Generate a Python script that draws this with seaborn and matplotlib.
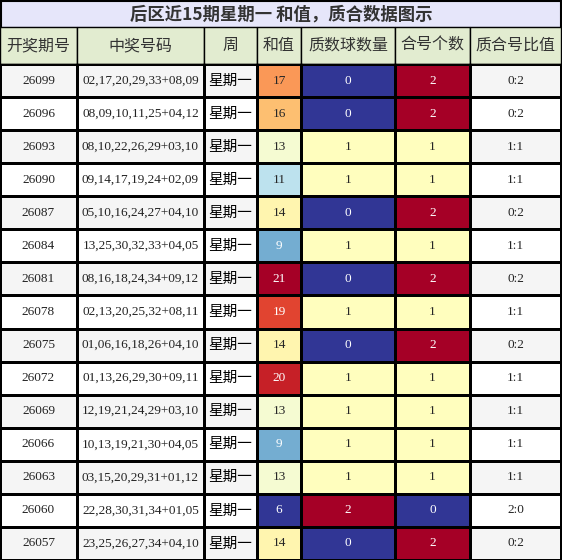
import numpy as np
import matplotlib
matplotlib.use("Agg")
import matplotlib.pyplot as plt
from matplotlib.colors import ListedColormap
import seaborn as sns

periods = ["26099","26096","26093","26090","26087","26084","26081","26078","26075","26072","26069","26066","26063","26060","26057"]
numbers = ["02,17,20,29,33+08,09","08,09,10,11,25+04,12","08,10,22,26,29+03,10","09,14,17,19,24+02,09",
           "05,10,16,24,27+04,10","13,25,30,32,33+04,05","08,16,18,24,34+09,12","02,13,20,25,32+08,11",
           "01,06,16,18,26+04,10","01,13,26,29,30+09,11","12,19,21,24,29+03,10","10,13,19,21,30+04,05",
           "03,15,20,29,31+01,12","22,28,30,31,34+01,05","23,25,26,27,34+04,10"]
weekday = ["星期一"] * 15
sums = [17,16,13,11,14,9,21,19,14,20,13,9,13,6,14]
primes = [0,0,1,1,0,1,0,1,0,1,1,1,1,2,0]
composites = [2,2,1,1,2,1,2,1,2,1,1,1,1,0,2]
ratios = ["0:2","0:2","1:1","1:1","0:2","1:1","0:2","1:1","0:2","1:1","1:1","1:1","1:1","2:0","0:2"]
headers = ["开奖期号","中奖号码","周","和值","质数球数量","合号个数","质合号比值"]
title = "后区近15期星期一 和值，质合数据图示"

W, H = 562, 560
fig = plt.figure(figsize=(W/100, H/100), dpi=100)
bg = fig.add_axes([0, 0, 1, 1])
bg.set_xlim(0, W); bg.set_ylim(H, 0); bg.axis("off")
xs = [0, 77, 204, 257, 301, 395, 470, 561]
title_h, head_h, top = 27, 37, 64
cjk = ["Noto Sans CJK SC", "DejaVu Sans"]
mix = ["Liberation Serif", "Noto Sans CJK SC"]

bg.add_patch(plt.Rectangle((0.5, 0.5), W-1.5, title_h, fc="#e6e6fa", ec="black", lw=1.5))
bg.text(W/2, title_h/2+1, title, ha="center", va="center", fontsize=12.5, fontweight="bold",
        color="#333333", family=cjk)
for i, h in enumerate(headers):
    bg.add_patch(plt.Rectangle((xs[i], title_h), xs[i+1]-xs[i], head_h, fc="#e2ecd0", ec="black", lw=1))
    bg.text((xs[i]+xs[i+1])/2, title_h+head_h/2, h, ha="center", va="center", fontsize=11.5,
            color="#333333", family=cjk)

parity = np.array([[i % 2] for i in range(15)])
stripe = ListedColormap(["#f5f5f5", "white"])
cols = [
    (parity, stripe, np.array(periods)[:, None], {}),
    (parity, stripe, np.array(numbers)[:, None], {}),
    (parity, stripe, np.array(weekday)[:, None], {"fontsize": 10.5, "family": cjk, "color": "black"}),
    (np.array(sums)[:, None], "RdYlBu_r", np.array(sums)[:, None], {}),
    (np.array(primes)[:, None], "RdYlBu_r", np.array(primes)[:, None], {}),
    (np.array(composites)[:, None], "RdYlBu_r", np.array(composites)[:, None], {}),
    (parity, stripe, np.array(ratios)[:, None], {}),
]
for i, (data, cmap, labels, kw) in enumerate(cols):
    ax = fig.add_axes([xs[i]/W, 0, (xs[i+1]-xs[i])/W, (H-top)/H])
    akw = {"fontsize": 9.5, "family": mix, "color": "#222222"}
    akw.update(kw)
    if isinstance(cmap, str):
        akw.pop("color")
        vmin, vmax = (6, 21) if i == 3 else (0, 2)
        sns.heatmap(data, ax=ax, cmap=cmap, vmin=vmin, vmax=vmax, annot=labels, fmt="",
                    cbar=False, linewidths=1, linecolor="black", annot_kws=akw)
    else:
        sns.heatmap(data, ax=ax, cmap=cmap, vmin=0, vmax=1, annot=labels, fmt="",
                    cbar=False, linewidths=1, linecolor="black", annot_kws=akw)
    ax.set_xticks([]); ax.set_yticks([])
    ax.set_xlabel(""); ax.set_ylabel("")
    for s in ax.spines.values():
        s.set_visible(True); s.set_linewidth(1)

fig.savefig("out.png", dpi=100)
